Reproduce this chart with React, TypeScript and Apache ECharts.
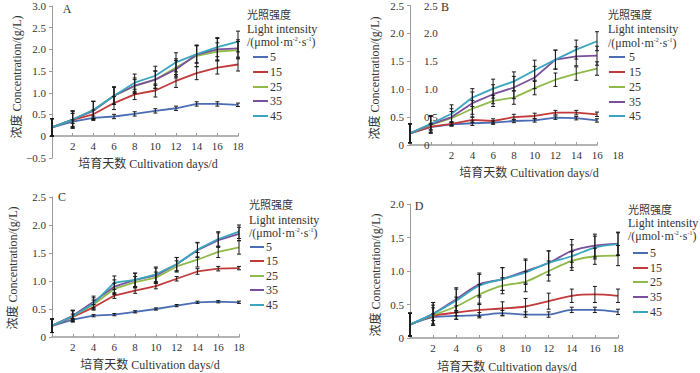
import React, { useEffect, useRef } from "react";
import * as echarts from "echarts";

// ---------- data ----------
const days = [0, 2, 4, 6, 8, 10, 12, 14, 16, 18];
const intensities = ["5", "15", "25", "35", "45"];

// Panel A (rows: 5, 15, 25, 35, 45)
const aValues = [
  [0.2, 0.33, 0.42, 0.45, 0.51, 0.58, 0.64, 0.74, 0.74, 0.72],
  [0.2, 0.37, 0.5, 0.76, 0.96, 1.05, 1.27, 1.45, 1.58, 1.65],
  [0.2, 0.38, 0.6, 0.93, 1.15, 1.3, 1.58, 1.85, 1.95, 1.98],
  [0.2, 0.38, 0.58, 0.93, 1.16, 1.3, 1.54, 1.88, 2.0, 2.02],
  [0.2, 0.38, 0.6, 0.93, 1.23, 1.39, 1.7, 1.89, 2.05, 2.18],
];
const aErrors = [
  [0.2, 0.04, 0.04, 0.05, 0.05, 0.05, 0.05, 0.05, 0.05, 0.04],
  [0.2, 0.15, 0.1, 0.15, 0.12, 0.15, 0.15, 0.15, 0.15, 0.15],
  [0.2, 0.18, 0.2, 0.2, 0.15, 0.2, 0.2, 0.25, 0.2, 0.2],
  [0.2, 0.2, 0.22, 0.2, 0.18, 0.2, 0.2, 0.2, 0.25, 0.2],
  [0.2, 0.2, 0.2, 0.2, 0.2, 0.22, 0.22, 0.2, 0.22, 0.24],
];

// Panel B
const bValues = [
  [0.21, 0.32, 0.37, 0.39, 0.4, 0.43, 0.44, 0.49, 0.48, 0.44],
  [0.21, 0.33, 0.38, 0.45, 0.43, 0.5, 0.52, 0.58, 0.58, 0.55],
  [0.21, 0.36, 0.48, 0.65, 0.79, 0.85, 1.02, 1.17, 1.28, 1.37],
  [0.21, 0.37, 0.5, 0.75, 0.91, 1.03, 1.21, 1.53, 1.59, 1.6],
  [0.21, 0.38, 0.56, 0.85, 1.01, 1.14, 1.34, 1.53, 1.71, 1.86],
];
const bErrors = [
  [0.17, 0.05, 0.03, 0.04, 0.03, 0.03, 0.03, 0.03, 0.03, 0.03],
  [0.17, 0.06, 0.04, 0.05, 0.04, 0.05, 0.05, 0.04, 0.04, 0.04],
  [0.17, 0.15, 0.12, 0.15, 0.1, 0.12, 0.12, 0.12, 0.12, 0.12],
  [0.17, 0.15, 0.15, 0.2, 0.17, 0.2, 0.2, 0.17, 0.17, 0.17],
  [0.17, 0.15, 0.16, 0.16, 0.17, 0.17, 0.18, 0.17, 0.17, 0.17],
];
const bTickLabels = ["2", "4", "6", "8", "10", "12", "14", "16", "18"];

// Panel C
const cValues = [
  [0.2, 0.31, 0.38, 0.4, 0.45, 0.5, 0.56, 0.62, 0.63, 0.62],
  [0.2, 0.36, 0.53, 0.74, 0.83, 0.91, 1.04, 1.17, 1.22, 1.23],
  [0.2, 0.37, 0.58, 0.86, 0.98, 1.06, 1.26, 1.38, 1.52, 1.6],
  [0.2, 0.38, 0.63, 0.9, 1.02, 1.1, 1.3, 1.55, 1.73, 1.84],
  [0.2, 0.37, 0.6, 0.97, 1.02, 1.12, 1.3, 1.56, 1.75, 1.88],
];
const cErrors = [
  [0.12, 0.02, 0.02, 0.02, 0.02, 0.02, 0.02, 0.02, 0.02, 0.02],
  [0.12, 0.05, 0.05, 0.05, 0.05, 0.05, 0.04, 0.05, 0.04, 0.03],
  [0.12, 0.1, 0.08, 0.1, 0.1, 0.1, 0.1, 0.13, 0.1, 0.12],
  [0.12, 0.1, 0.1, 0.12, 0.12, 0.13, 0.12, 0.13, 0.13, 0.12],
  [0.12, 0.1, 0.1, 0.12, 0.12, 0.13, 0.12, 0.13, 0.13, 0.12],
];

// Panel D
const dValues = [
  [0.2, 0.31, 0.33, 0.34, 0.37, 0.35, 0.35, 0.42, 0.42, 0.39],
  [0.2, 0.33, 0.38, 0.42, 0.44, 0.47, 0.55, 0.63, 0.65, 0.63],
  [0.2, 0.34, 0.47, 0.65, 0.78, 0.84, 1.0, 1.15, 1.22, 1.23],
  [0.2, 0.36, 0.58, 0.8, 0.88, 1.0, 1.12, 1.3, 1.38, 1.41],
  [0.2, 0.36, 0.56, 0.78, 0.88, 0.98, 1.12, 1.22, 1.35, 1.4],
];
const dErrors = [
  [0.17, 0.05, 0.05, 0.04, 0.04, 0.04, 0.04, 0.04, 0.04, 0.04],
  [0.17, 0.12, 0.1, 0.1, 0.1, 0.12, 0.12, 0.1, 0.12, 0.1],
  [0.17, 0.15, 0.14, 0.15, 0.12, 0.15, 0.15, 0.14, 0.12, 0.15],
  [0.17, 0.17, 0.17, 0.17, 0.17, 0.18, 0.18, 0.17, 0.17, 0.17],
  [0.17, 0.17, 0.17, 0.17, 0.17, 0.18, 0.18, 0.17, 0.17, 0.17],
];

// ---------- styles ----------
const colors = ["#4a6db3", "#c23a3a", "#8fba4a", "#7a4f9c", "#3aa5bf"];
const FONT = "Liberation Serif, Times New Roman, Noto Sans CJK SC, serif";
const TEXT = "#333";
const AXIS = "#9a9a9a";

function yFmt(v: number) {
  if (v === 0) return "0";
  if (v < 0) return "\u2212" + Math.abs(v).toFixed(1);
  return v.toFixed(1);
}

function valueYAxis(gridIndex: number, min: number, max: number, extra: any = {}) {
  return {
    type: "value",
    gridIndex,
    min,
    max,
    interval: 0.5,
    axisLine: { show: true, lineStyle: { color: AXIS, width: 1 } },
    axisTick: { show: true, length: 3, lineStyle: { color: AXIS } },
    splitLine: { show: false },
    axisLabel: { color: TEXT, fontFamily: FONT, fontSize: 11, margin: 6, formatter: yFmt },
    ...extra,
  };
}

function dayXAxis(gridIndex: number, extra: any = {}) {
  return {
    type: "value",
    gridIndex,
    min: 0,
    max: 18,
    interval: 2,
    axisLine: { show: true, lineStyle: { color: AXIS, width: 1.5 } },
    axisTick: { show: true, inside: true, length: 3, lineStyle: { color: AXIS } },
    splitLine: { show: false },
    axisLabel: {
      color: TEXT,
      fontFamily: FONT,
      fontSize: 11,
      margin: 4,
      formatter: (v: number) => (v === 0 ? "" : String(v)),
    },
    ...extra,
  };
}

function errRender(params: any, api: any) {
  const x = api.value(0);
  const y = api.value(1);
  const e = api.value(2);
  const t = api.coord([x, y + e]);
  const b = api.coord([x, y - e]);
  const w = 2;
  const st = { stroke: "#1a1a1a", lineWidth: 1 };
  return {
    type: "group",
    children: [
      { type: "line", shape: { x1: t[0], y1: t[1], x2: b[0], y2: b[1] }, style: st },
      { type: "line", shape: { x1: t[0] - w, y1: t[1], x2: t[0] + w, y2: t[1] }, style: st },
      { type: "line", shape: { x1: b[0] - w, y1: b[1], x2: b[0] + w, y2: b[1] }, style: st },
    ],
  };
}

function panelSeries(values: number[][], errors: number[][], xi: number, yi: number, smooth: any) {
  const out: any[] = [];
  values.forEach((row, s) => {
    out.push({
      type: "line",
      name: intensities[s],
      xAxisIndex: xi,
      yAxisIndex: yi,
      data: days.map((d, i) => [d, row[i]]),
      showSymbol: false,
      symbol: "none",
      smooth,
      lineStyle: { width: 1.8, color: colors[s] },
      itemStyle: { color: colors[s] },
      z: 2,
    });
  });
  const errData: number[][] = [];
  values.forEach((row, s) => {
    row.forEach((v, i) => errData.push([days[i], v, errors[s][i]]));
  });
  out.push({
    type: "custom",
    xAxisIndex: xi,
    yAxisIndex: yi,
    data: errData,
    renderItem: errRender,
    silent: true,
    clip: false,
    z: 3,
  });
  return out;
}

function txt(x: number, y: number, text: string, extra: any = {}, rot = 0) {
  return {
    type: "text",
    x,
    y,
    rotation: rot,
    silent: true,
    style: {
      text,
      fill: TEXT,
      fontFamily: FONT,
      fontSize: 11,
      align: "left",
      verticalAlign: "middle",
      ...extra,
    },
  };
}

function legend(x: number, hy: number[], iy: number[], lx1: number, lx2: number, tx: number) {
  const ch: any[] = [];
  ch.push(txt(x, hy[0], "光照强度", { fontSize: 11 }));
  ch.push(txt(x, hy[1], "Light intensity", { fontSize: 12 }));
  ch.push({
    type: "text",
    x,
    y: hy[2],
    silent: true,
    style: {
      text: "{a|/(μmol·m}{s|-2}{a|·s}{s|-1}{a|)}",
      align: "left",
      verticalAlign: "middle",
      rich: {
        a: { fontFamily: FONT, fontSize: 12, fill: TEXT, color: TEXT },
        s: { fontFamily: FONT, fontSize: 6, fill: TEXT, color: TEXT, verticalAlign: "top" },
      },
    },
  });
  intensities.forEach((name, i) => {
    ch.push({
      type: "line",
      silent: true,
      shape: { x1: lx1, y1: iy[i], x2: lx2, y2: iy[i] },
      style: { stroke: colors[i], lineWidth: 2 },
    });
    ch.push(txt(tx, iy[i], name, { fontSize: 12 }));
  });
  return ch;
}

export default function App() {
  const ref = useRef<HTMLDivElement>(null);
  useEffect(() => {
    document.body.style.margin = "0";
    if (!ref.current) return;
    const chart = echarts.init(ref.current, undefined, { renderer: "svg" });

    const option: any = {
      animation: false,
      backgroundColor: "#ffffff",
      grid: [
        { left: 52, top: 6, width: 186, height: 130 },
        { left: 410, top: 5, width: 187, height: 140 },
        { left: 410, top: 5, width: 208, height: 140 },
        { left: 52, top: 197, width: 187, height: 140 },
        { left: 410, top: 204, width: 208, height: 134 },
        { left: 52, top: 6, width: 186, height: 152 },
      ],
      xAxis: [
        dayXAxis(0),
        dayXAxis(1, { axisLabel: { show: false } }),
        {
          type: "value",
          gridIndex: 2,
          min: -2,
          max: 18,
          interval: 2,
          axisLine: { show: false },
          axisTick: { show: false },
          splitLine: { show: false },
          axisLabel: {
            color: TEXT,
            fontFamily: FONT,
            fontSize: 11,
            margin: 4,
            formatter: (v: number) => {
              const idx = bTickLabels.indexOf(String(v));
              return idx >= 0 ? bTickLabels[idx] : "";
            },
          },
        },
        dayXAxis(3),
        dayXAxis(4),
        {
          type: "value",
          gridIndex: 5,
          min: 0,
          max: 18,
          show: false,
        },
      ],
      yAxis: [
        valueYAxis(0, 0, 3.0, { axisLine: { show: false }, axisTick: { show: false } }),
        valueYAxis(1, 0, 2.5),
        valueYAxis(2, 0, 2.5, {
          axisLine: { show: false },
          axisTick: { show: false },
          axisLabel: { color: TEXT, fontFamily: FONT, fontSize: 11, inside: true, margin: 14, formatter: yFmt },
        }),
        valueYAxis(3, 0, 2.5),
        valueYAxis(4, 0, 2.0),
        valueYAxis(5, -0.5, 3.0, {
          axisLine: { show: true, onZero: false, lineStyle: { color: AXIS, width: 1 } },
          axisLabel: {
            color: TEXT,
            fontFamily: FONT,
            fontSize: 11,
            margin: 6,
            formatter: (v: number) => (v < 0 ? yFmt(v) : ""),
          },
        }),
      ],
      series: [
        ...panelSeries(aValues, aErrors, 0, 0, false),
        ...panelSeries(bValues, bErrors, 1, 1, false),
        ...panelSeries(cValues, cErrors, 3, 3, false),
        ...panelSeries(dValues, dErrors, 4, 4, 0.3),
      ],
      graphic: [
        // panel letters
        txt(67, 9, "A", { align: "center", fontSize: 12 }),
        txt(445, 7, "B", { align: "center", fontSize: 12 }),
        txt(62, 197, "C", { align: "center", fontSize: 12 }),
        txt(419, 206, "D", { align: "center", fontSize: 12 }),
        // x titles
        txt(148, 164, "培育天数 Cultivation days/d", { align: "center", fontSize: 12 }),
        txt(529, 173, "培育天数 Cultivation days/d", { align: "center", fontSize: 12 }),
        txt(150, 365, "培育天数 Cultivation days/d", { align: "center", fontSize: 12 }),
        txt(507, 367, "培育天数 Cultivation days/d", { align: "center", fontSize: 12 }),
        // y titles
        txt(17, 77, "浓度 Concentration/(g/L)", { align: "center", fontSize: 12 }, Math.PI / 2),
        txt(375, 78, "浓度 Concentration/(g/L)", { align: "center", fontSize: 12 }, Math.PI / 2),
        txt(13, 268, "浓度 Concentration/(g/L)", { align: "center", fontSize: 12 }, Math.PI / 2),
        txt(376, 275, "浓度 Concentration/(g/L)", { align: "center", fontSize: 12 }, Math.PI / 2),
        // legends
        ...legend(247, [15, 29, 42], [57, 72, 87, 101, 116], 253, 268, 270),
        ...legend(608, [15, 29, 43], [57, 72, 87, 102, 116], 609, 625, 629),
        ...legend(249, [205, 220, 233], [247, 261, 276, 290, 305], 250, 264, 266),
        ...legend(628, [210, 223, 236], [253, 268, 282, 297, 312], 633, 648, 650),
      ],
    };
    chart.setOption(option);
    return () => chart.dispose();
  }, []);
  return <div ref={ref} style={{ width: 700, height: 373 }} />;
}
